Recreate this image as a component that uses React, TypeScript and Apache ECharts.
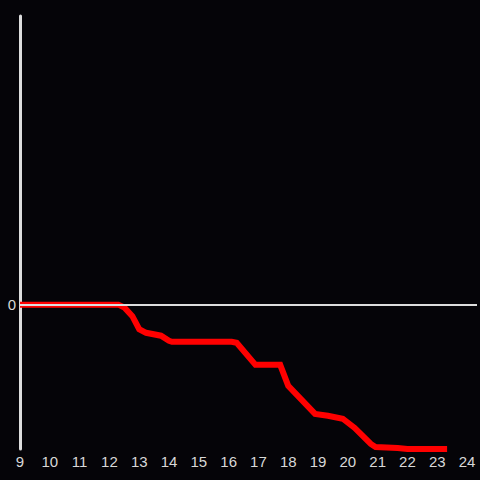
import React, { useEffect, useRef } from "react";
import * as echarts from "echarts";

const hours = [9, 12.3, 12.5, 12.77, 13.0, 13.23, 13.73, 14.0, 14.1, 16.1, 16.27, 16.9, 17.73, 18.0, 18.9, 19.33, 19.83, 20.23, 20.77, 20.93, 21.67, 22.0, 23.33];
const values = [0, 0, -2, -8, -17, -19.5, -21.5, -25, -25.7, -25.7, -26.4, -41.7, -41.7, -56.25, -75.7, -77, -79, -85.4, -96.5, -98.6, -99.3, -100, -100];
const xMin = 9;
const xMax = 24.333;
const yMin = -100;
const yMax = 200;

const FONT = "'Liberation Sans', Arial, sans-serif";

export default function App() {
  const ref = useRef<HTMLDivElement>(null);
  useEffect(() => {
    if (!ref.current) return;
    document.body.style.margin = "0";
    const chart = echarts.init(ref.current, undefined, { renderer: "svg" });
    const data = hours.map((h, i) => [h, values[i]]);
    chart.setOption({
      animation: false,
      backgroundColor: "#050408",
      grid: { left: 20, right: 0, top: 16, bottom: 31 },
      xAxis: {
        type: "value",
        min: xMin,
        max: xMax,
        interval: 1,
        axisLine: { show: false },
        axisTick: { show: false },
        splitLine: { show: false },
        axisLabel: {
          color: "#d8d8d8",
          fontSize: 15,
          fontFamily: FONT,
          margin: 5,
          formatter: (v: number) => (Number.isInteger(v) ? String(v) : ""),
        },
      },
      yAxis: {
        type: "value",
        min: yMin,
        max: yMax,
        interval: 100,
        axisLine: { show: true, lineStyle: { color: "#dddddd", width: 3 } },
        axisTick: { show: false },
        splitLine: { show: false },
        axisLabel: {
          color: "#d8d8d8",
          fontSize: 15,
          fontFamily: FONT,
          margin: 4,
          formatter: (v: number) => (v === 0 ? "0" : ""),
        },
      },
      series: [
        {
          type: "line",
          data: [],
          z: 1,
          markLine: {
            silent: true,
            symbol: ["none", "none"],
            label: { show: false },
            lineStyle: { color: "#dddddd", width: 2, type: "solid" },
            data: [{ yAxis: 0 }],
          },
        },
        {
          type: "line",
          data,
          z: 3,
          showSymbol: false,
          symbol: "none",
          lineStyle: { color: "#ff0000", width: 6, join: "miter" },
          itemStyle: { color: "#ff0000" },
        },
      ],
    });
    return () => chart.dispose();
  }, []);
  return <div ref={ref} style={{ position: "fixed", left: 0, top: 0, width: 480, height: 480 }} />;
}
